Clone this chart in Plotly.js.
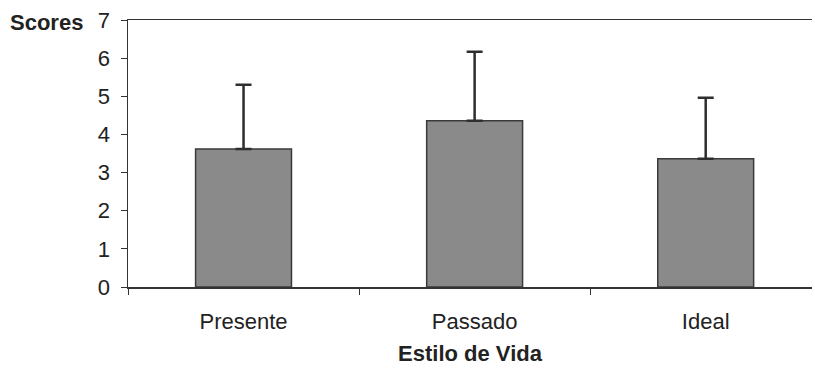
<!DOCTYPE html>
<html>
<head>
<meta charset="utf-8">
<script src="https://cdn.plot.ly/plotly-3.0.1.min.js"></script>
<style>
  html, body { margin: 0; padding: 0; background: #fff; }
  #chart { width: 815px; height: 369px; }
</style>
</head>
<body>
<div id="chart"></div>
<script>
// Scores by lifestyle (mean + SD)
const categories = ["Presente", "Passado", "Ideal"];
const means = [3.62, 4.36, 3.36];
const sds = [1.68, 1.81, 1.60];
const yTicks = [0, 1, 2, 3, 4, 5, 6, 7];

const trace = {
  x: categories,
  y: means,
  type: "bar",
  width: 0.415,
  marker: {
    color: "#8a8a8a",
    line: { color: "#3a3a3a", width: 1.5 },
  },
  error_y: {
    type: "data",
    symmetric: false,
    array: sds,
    arrayminus: [0, 0, 0],
    color: "#2e2e2e",
    thickness: 2.5,
    width: 8,
  },
  hoverinfo: "skip",
};

const layout = {
  width: 815,
  height: 369,
  margin: { l: 128, r: 3, t: 20, b: 82 },
  paper_bgcolor: "#ffffff",
  plot_bgcolor: "#ffffff",
  font: { family: "Liberation Sans, Arial, sans-serif", size: 22, color: "#222" },
  showlegend: false,
  bargap: 0,
  xaxis: {
    type: "category",
    range: [-0.5, 2.46],
    showline: true,
    mirror: true,
    linecolor: "#333",
    linewidth: 1.5,
    ticks: "outside",
    tickson: "boundaries",
    ticklen: 6,
    tickcolor: "#333",
    ticklabelstandoff: 14,
    showgrid: false,
    zeroline: false,
    automargin: false,
    title: {
      text: "<b>Estilo de Vida</b>",
      font: { size: 22, color: "#222" },
      standoff: 12,
    },
  },
  yaxis: {
    range: [0, 7],
    tickvals: yTicks,
    showline: true,
    linecolor: "#333",
    linewidth: 1.5,
    ticks: "outside",
    ticklen: 6,
    tickcolor: "#333",
    ticklabelstandoff: 6,
    showgrid: false,
    zeroline: false,
    automargin: false,
  },
  annotations: [
    {
      text: "<b>Scores</b>",
      xref: "paper",
      yref: "paper",
      x: -0.063,
      y: 0.99,
      xanchor: "right",
      yanchor: "middle",
      showarrow: false,
      font: { size: 22, color: "#222" },
    },
  ],
};

Plotly.newPlot("chart", [trace], layout, { displayModeBar: false, staticPlot: true });
</script>
</body>
</html>
